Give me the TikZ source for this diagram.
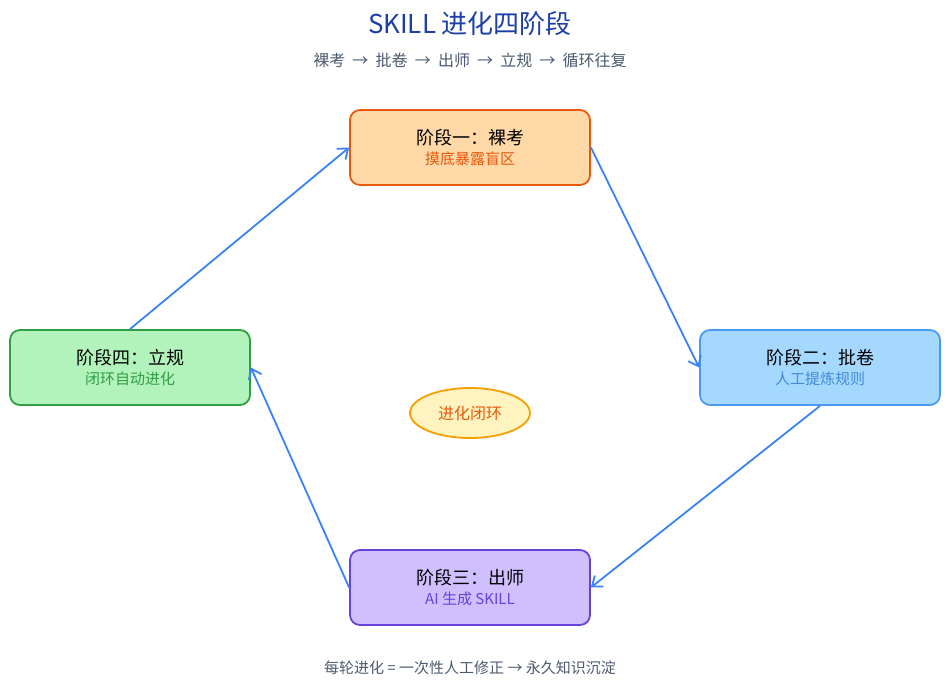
\documentclass[tikz,border=0pt]{standalone}
\usepackage{fontspec}
\setmainfont{Noto Sans CJK SC}
\usepackage{xcolor}
\usetikzlibrary{arrows.meta,calc,shapes.geometric}
\definecolor{oFill}{HTML}{FFD8A8}\definecolor{oLine}{HTML}{E8590C}
\definecolor{bFill}{HTML}{A5D8FF}\definecolor{bLine}{HTML}{4A9BEF}
\definecolor{pFill}{HTML}{D0BFFF}\definecolor{pLine}{HTML}{6741D9}
\definecolor{gFill}{HTML}{B2F2BB}\definecolor{gLine}{HTML}{2F9E44}
\definecolor{yFill}{HTML}{FFF3BF}\definecolor{yLine}{HTML}{F59F00}
\definecolor{arrowBlue}{HTML}{3B82F6}
\definecolor{titleBlue}{HTML}{1E3FA8}
\definecolor{noteGray}{HTML}{4B5A6E}
\tikzset{
  stage/.style={draw,line width=1.8pt,rounded corners=10pt,minimum width=240pt,minimum height=75pt,align=center},
  flow/.style={draw=arrowBlue,line width=1.8pt,-{Straight Barb[length=9pt,width=14pt]}}
}
\begin{document}
\begin{tikzpicture}[x=1pt,y=-1pt]
    \useasboundingbox (0,0) rectangle (950,692);
    % Title
    \node[text=titleBlue,font=\fontsize{26}{30}\selectfont\itshape] (title) at (470,24) {SKILL 进化四阶段};
    \node[text=noteGray,font=\fontsize{16}{19}\selectfont] (sub) at (470,60) {裸考\ \ →\ \ 批卷\ \ →\ \ 出师\ \ →\ \ 立规\ \ →\ \ 循环往复};
    % Stages
    \node[stage,draw=oLine,fill=oFill] (s1) at (470,147.5)
      {{\fontsize{18}{22}\selectfont 阶段一：裸考}\\[5pt]{\fontsize{15}{18}\selectfont\color{oLine}摸底暴露盲区}};
    \node[stage,draw=bLine,fill=bFill] (s2) at (820,367.5)
      {{\fontsize{18}{22}\selectfont 阶段二：批卷}\\[5pt]{\fontsize{15}{18}\selectfont\color{bLine!90!black}人工提炼规则}};
    \node[stage,draw=pLine,fill=pFill] (s3) at (470,587.5)
      {{\fontsize{18}{22}\selectfont 阶段三：出师}\\[5pt]{\fontsize{15}{18}\selectfont\color{pLine}\itshape AI 生成 SKILL}};
    \node[stage,draw=gLine,fill=gFill] (s4) at (130,367.5)
      {{\fontsize{18}{22}\selectfont 阶段四：立规}\\[5pt]{\fontsize{15}{18}\selectfont\color{gLine}闭环自动进化}};
    % Center
    \node[ellipse,draw=yLine,fill=yFill,line width=1.8pt,minimum width=120pt,minimum height=50pt,
      text=oLine,font=\fontsize{16}{19}\selectfont] (loop) at (470,413) {进化闭环};
    % Flow
    \draw[flow] (s4.north) -- (s1.west);
    \draw[flow] (s1.east) -- (s2.west);
    \draw[flow] (s2.south) -- (s3.east);
    \draw[flow] (s3.west) -- (s4.east);
    % Footer
    \node[text=noteGray,font=\fontsize{15}{18}\selectfont] (foot) at (470,668) {每轮进化\ =\ 一次性人工修正\ →\ 永久知识沉淀};
\end{tikzpicture}
\end{document}
